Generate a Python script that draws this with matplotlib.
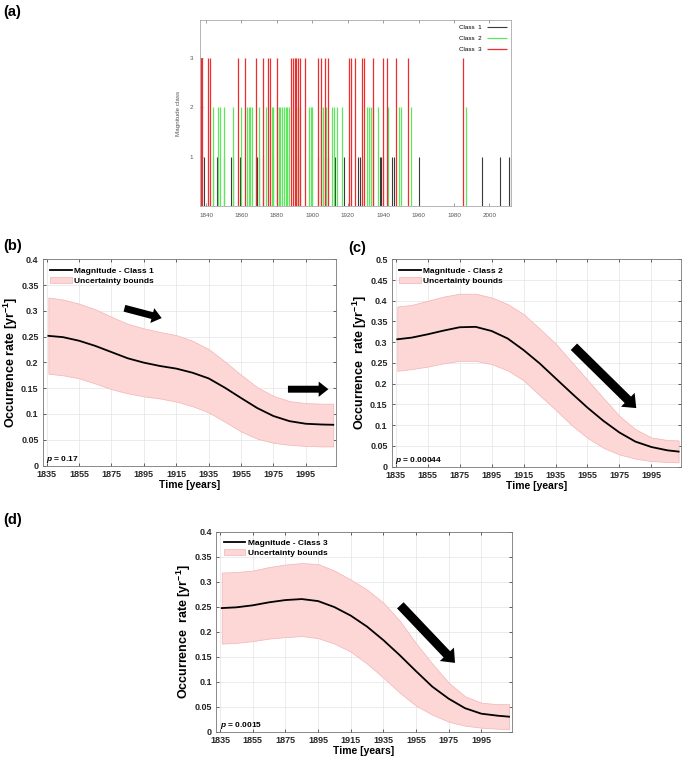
import matplotlib
matplotlib.use('Agg')
import matplotlib.pyplot as plt
from matplotlib.patches import FancyArrowPatch

plt.rcParams['font.family'] = ['Liberation Sans', 'DejaVu Sans']
plt.rcParams['mathtext.fontset'] = 'custom'
plt.rcParams['mathtext.rm'] = 'Liberation Sans'
plt.rcParams['mathtext.it'] = 'Liberation Sans:italic'
plt.rcParams['mathtext.bf'] = 'Liberation Sans:bold'
plt.rcParams['mathtext.bfit'] = 'Liberation Sans:italic:bold'

# (a) event years per magnitude class
class1_years = [1839, 1844, 1846, 1850, 1854, 1855, 1859, 1868, 1869, 1870, 1872, 1878,
                1886, 1892, 1899, 1903, 1907, 1909, 1913, 1918, 1921, 1926, 1927, 1938,
                1939, 1940, 1945, 1946, 1960, 1996, 2006, 2011, 2012]
class2_years = [1844, 1847, 1848, 1850, 1855, 1860, 1863, 1864, 1865, 1866, 1870, 1874,
                1877, 1878, 1880, 1881, 1882, 1883, 1884, 1885, 1886, 1887, 1891, 1892,
                1893, 1898, 1899, 1900, 1905, 1906, 1908, 1911, 1912, 1914, 1917, 1931,
                1932, 1933, 1934, 1937, 1943, 1949, 1950, 1956, 1987]
class3_years = [1837, 1838, 1841, 1842, 1858, 1862, 1868, 1872, 1875, 1876, 1880, 1888,
                1889, 1890, 1891, 1892, 1893, 1896, 1903, 1905, 1907, 1909, 1921, 1922,
                1924, 1928, 1929, 1934, 1940, 1942, 1947, 1954, 1985]
a_xticks = [1840, 1860, 1880, 1900, 1920, 1940, 1960, 1980, 2000]

# (b)-(d) occurrence rate curves
years = [1836, 1845, 1855, 1865, 1875, 1885, 1895, 1905, 1915, 1925, 1935, 1945,
         1955, 1965, 1975, 1985, 1995, 2005, 2012]
mean1 = [0.2515, 0.249, 0.242, 0.232, 0.220, 0.208, 0.1995, 0.193, 0.188, 0.180, 0.169,
         0.151, 0.131, 0.1115, 0.096, 0.086, 0.081, 0.0795, 0.079]
upper1 = [0.326, 0.322, 0.314, 0.303, 0.2885, 0.275, 0.266, 0.259, 0.253, 0.242, 0.226,
          0.202, 0.176, 0.152, 0.135, 0.125, 0.121, 0.120, 0.120]
lower1 = [0.178, 0.175, 0.169, 0.159, 0.148, 0.140, 0.134, 0.130, 0.124, 0.115, 0.103,
          0.085, 0.066, 0.052, 0.044, 0.040, 0.038, 0.037, 0.037]
mean2 = [0.307, 0.311, 0.319, 0.328, 0.336, 0.337, 0.327, 0.309, 0.281, 0.249, 0.213,
         0.177, 0.142, 0.110, 0.082, 0.060, 0.047, 0.039, 0.036]
upper2 = [0.386, 0.390, 0.400, 0.410, 0.417, 0.417, 0.408, 0.392, 0.368, 0.333, 0.297,
          0.253, 0.209, 0.165, 0.122, 0.090, 0.070, 0.064, 0.063]
lower2 = [0.231, 0.235, 0.241, 0.249, 0.255, 0.255, 0.247, 0.232, 0.208, 0.172, 0.137,
          0.100, 0.069, 0.045, 0.029, 0.019, 0.013, 0.011, 0.010]
mean3 = [0.247, 0.2485, 0.2525, 0.2585, 0.263, 0.265, 0.261, 0.249, 0.232, 0.210, 0.183,
         0.153, 0.121, 0.090, 0.066, 0.047, 0.036, 0.032, 0.030]
upper3 = [0.318, 0.319, 0.322, 0.329, 0.334, 0.337, 0.335, 0.322, 0.304, 0.284, 0.258,
          0.222, 0.177, 0.136, 0.098, 0.071, 0.058, 0.055, 0.055]
lower3 = [0.176, 0.1775, 0.181, 0.186, 0.189, 0.191, 0.187, 0.176, 0.160, 0.136, 0.108,
          0.078, 0.052, 0.034, 0.020, 0.012, 0.008, 0.006, 0.005]
time_ticks = [1835, 1855, 1875, 1895, 1915, 1935, 1955, 1975, 1995]
yticks_04 = [0, 0.05, 0.1, 0.15, 0.2, 0.25, 0.3, 0.35, 0.4]
yticks_05 = [0, 0.05, 0.1, 0.15, 0.2, 0.25, 0.3, 0.35, 0.4, 0.45, 0.5]

# trend arrows (tail, head) in data units
arrows1 = [((1883, 0.305), (1906, 0.286)), ((1984, 0.148), (2009, 0.148))]
arrows2 = [((1946.5, 0.289), (1985.5, 0.141))]
arrows3 = [((1945.4, 0.2525), (1978.9, 0.1375))]

W, H = 685, 759
fig = plt.figure(figsize=(W / 100, H / 100), dpi=100)


def rect(l, t, r, b):
    return [l / W, 1 - b / H, (r - l) / W, (b - t) / H]


# ---- (a)
ax = fig.add_axes(rect(200, 20, 511, 206))
ax.vlines(class1_years, 0, 1, colors='#3a3a3a', lw=0.8, label='Class  1')
ax.vlines(class2_years, 0, 2, colors='#5ee65e', lw=0.9, label='Class  2')
ax.vlines(class3_years, 0, 3, colors='#ee2e2e', lw=0.9, label='Class  3')
ax.set_xlim(1836.6, 2012.2)
ax.set_ylim(0, 3.76)
ax.set_xticks(a_xticks)
ax.set_yticks([1, 2, 3])
ax.tick_params(labelsize=4.5, colors='#555555', direction='in', length=2, width=0.4,
               top=True, pad=5)
for s in ax.spines.values():
    s.set_color('#999999')
    s.set_linewidth(0.5)
ax.set_ylabel('Magnitude class', fontsize=4.5, color='#555555', labelpad=6)
ax.legend(loc='upper right', markerfirst=False, frameon=False, fontsize=4.5,
          handlelength=3.2, labelspacing=0.9, borderaxespad=0.3)


def arrow_style(arrows):
    if len(arrows) > 1:
        return 'simple,head_width=1.1,head_length=0.7,tail_width=0.5'
    return 'simple,head_width=1.4,head_length=0.85,tail_width=0.65'


def rate_panel(box, mean, upper, lower, yticks, name, pval, arrows, ylab):
    ax = fig.add_axes(rect(*box))
    ax.fill_between(years, lower, upper, facecolor='#fdd6d6', edgecolor='#f3b4b4',
                    lw=0.5, label='Uncertainty bounds')
    ln, = ax.plot(years, mean, color='black', lw=1.3, label=name)
    ax.set_xlim(1832.5, 2013.5)
    ax.set_ylim(yticks[0], yticks[-1])
    ax.set_xticks(time_ticks)
    ax.set_yticks(yticks)
    ax.set_yticklabels(['%g' % v for v in yticks])
    ax.grid(True, color='#e4e4e4', lw=0.5)
    ax.set_axisbelow(True)
    ax.tick_params(labelsize=6.5, colors='#262626', direction='in', length=2.5,
                   width=0.5, top=True, right=True, pad=3)
    for t in ax.get_xticklabels() + ax.get_yticklabels():
        t.set_fontweight('bold')
    for s in ax.spines.values():
        s.set_color('#777777')
        s.set_linewidth(0.6)
    ax.set_xlabel('Time [years]', fontsize=7.5, weight='bold', labelpad=1)
    ax.set_ylabel(ylab, fontsize=9, weight='bold')
    # right edge of the rotated label sits ~23 px left of the axis
    ax.yaxis.set_label_coords(-23 / (box[2] - box[0]), 0.5)
    h, l = ax.get_legend_handles_labels()
    ax.legend([ln, h[0]], [name, 'Uncertainty bounds'], loc='upper left', frameon=False,
              prop={'weight': 'bold', 'size': 6}, handlelength=2.6, labelspacing=0.25,
              borderaxespad=0.5, handletextpad=0.3)
    ax.text(0.012, 0.022, r'$\mathbfit{p}$ = ' + pval, transform=ax.transAxes,
            fontsize=6, weight='bold')
    for tail, head in arrows:
        ax.add_patch(FancyArrowPatch(tail, head, arrowstyle=arrow_style(arrows),
                                     mutation_scale=10, color='black', lw=0,
                                     shrinkA=0, shrinkB=0))
    return ax


rate_panel((42.7, 259.3, 335.7, 465.5), mean1, upper1, lower1, yticks_04,
           'Magnitude - Class 1', '0.17', arrows1, 'Occurrence rate [yr$^{\\mathbf{-1}}$]')
rate_panel((391.7, 259.3, 681, 466.5), mean2, upper2, lower2, yticks_05,
           'Magnitude - Class 2', '0.00044', arrows2, 'Occurrence  rate [yr$^{\\mathbf{-1}}$]')
rate_panel((216, 531.5, 511.5, 731.7), mean3, upper3, lower3, yticks_04,
           'Magnitude - Class 3', '0.0015', arrows3, 'Occurrence  rate [yr$^{\\mathbf{-1}}$]')

fig.text(3 / W, 1 - 12 / H, '(a)', fontsize=10.5, weight='bold', va='center')
fig.text(3 / W, 1 - 246 / H, '(b)', fontsize=10.5, weight='bold', va='center')
fig.text(348 / W, 1 - 248 / H, '(c)', fontsize=10.5, weight='bold', va='center')
fig.text(3 / W, 1 - 520 / H, '(d)', fontsize=10.5, weight='bold', va='center')

fig.savefig('out.png', dpi=100)
